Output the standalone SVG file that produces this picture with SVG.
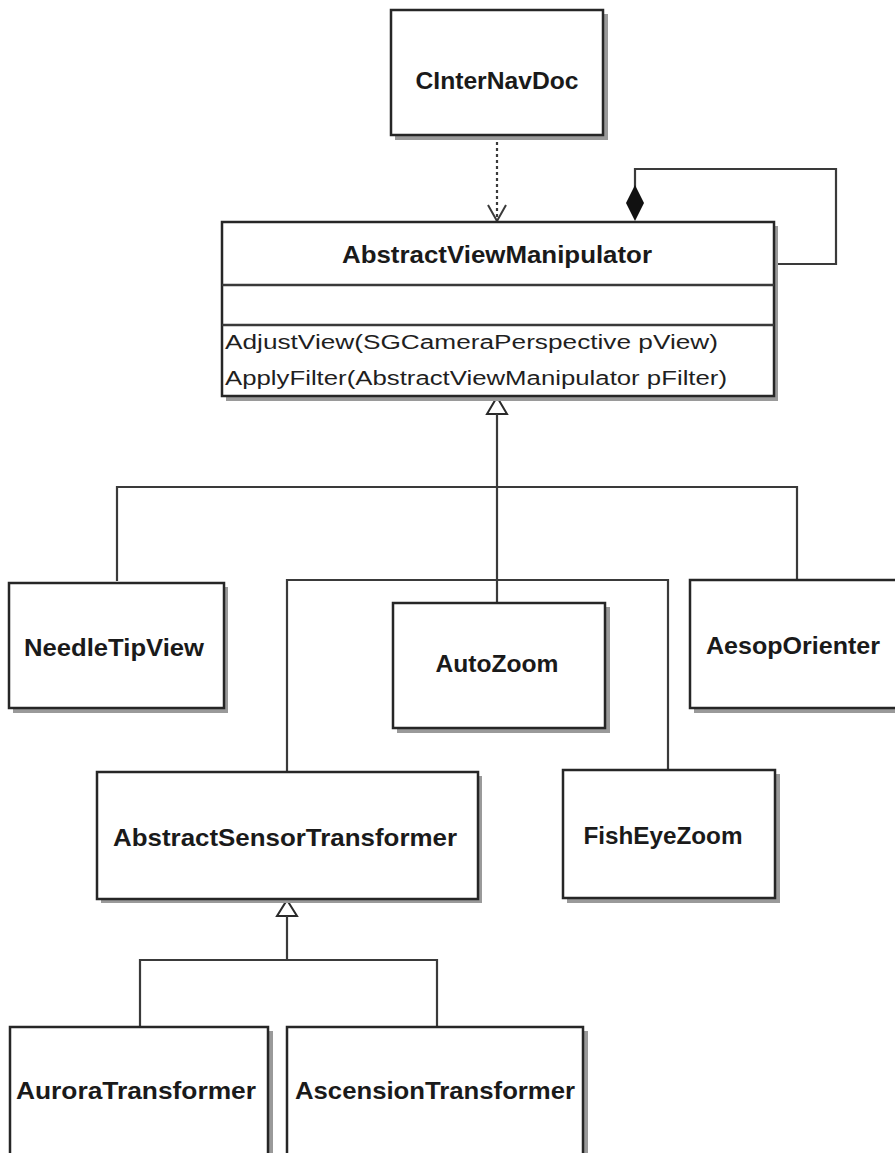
<svg xmlns="http://www.w3.org/2000/svg" width="895" height="1153" viewBox="0 0 895 1153">
  <style>
    .box { fill: #ffffff; stroke: #262626; stroke-width: 2.5; }
    .shadow { fill: #9a9a9a; }
    .div { stroke: #3a3a3a; stroke-width: 2.5; fill: none; }
    .name { font-family: "Liberation Sans", Arial, sans-serif; font-weight: bold; font-size: 24px; fill: #1a1a1a; text-anchor: middle; }
    .op { font-family: "Liberation Sans", Arial, sans-serif; font-size: 20px; fill: #1f1f1f; }
    .wire { stroke: #3a3a3a; stroke-width: 2.2; fill: none; }
    .dep { stroke: #3a3a3a; stroke-width: 2.2; fill: none; stroke-dasharray: 3 3; }
  </style>
  <defs>
    <!-- open V arrowhead, drawn along +x and turned by orient -->
    <marker id="openArrow" viewBox="0 0 20 20" refX="19" refY="10" markerWidth="20" markerHeight="20" markerUnits="userSpaceOnUse" orient="auto">
      <path d="M3,1 L19,10 L3,19" fill="none" stroke="#3a3a3a" stroke-width="2"/>
    </marker>
  </defs>
  <rect width="895" height="1153" fill="#ffffff"/>

  <!-- connectors -->
  <g id="connectors">
    <!-- dependency: CInterNavDoc to AbstractViewManipulator -->
    <line class="dep" x1="497" y1="136" x2="497" y2="221" marker-end="url(#openArrow)"/>
    <!-- self composition on AbstractViewManipulator -->
    <polyline class="wire" points="635,190 635,169 836,169 836,264 774,264"/>
    <polygon points="635,185 644,203 635,221 626,203" fill="#111111"/>
    <!-- generalization from AbstractViewManipulator -->
    <polygon points="497,397 507,414 487,414" fill="#ffffff" stroke="#2a2a2a" stroke-width="2"/>
    <line class="wire" x1="497" y1="414" x2="497" y2="603"/>
    <polyline class="wire" points="117,581 117,487 797,487 797,580"/>
    <polyline class="wire" points="287,772 287,580 668,580 668,770"/>
    <!-- generalization from AbstractSensorTransformer -->
    <polygon points="287,900 297,916 277,916" fill="#ffffff" stroke="#2a2a2a" stroke-width="2"/>
    <line class="wire" x1="287" y1="916" x2="287" y2="960"/>
    <polyline class="wire" points="140,1027 140,960 437,960 437,1027"/>
  </g>

  <!-- classes -->
  <g id="CInterNavDoc">
    <rect class="shadow" x="395" y="14" width="213" height="126"/>
    <rect class="box" x="391" y="10" width="212" height="125"/>
    <text class="name" x="497" y="89" textLength="163" lengthAdjust="spacingAndGlyphs">CInterNavDoc</text>
  </g>

  <g id="AbstractViewManipulator">
    <rect class="shadow" x="226" y="226" width="552" height="175"/>
    <rect class="box" x="222" y="222" width="552" height="174"/>
    <line class="div" x1="222" y1="285" x2="774" y2="285"/>
    <line class="div" x1="222" y1="325" x2="774" y2="325"/>
    <text class="name" x="497" y="263" textLength="310" lengthAdjust="spacingAndGlyphs">AbstractViewManipulator</text>
    <text class="op" x="225" y="349" textLength="493" lengthAdjust="spacingAndGlyphs">AdjustView(SGCameraPerspective pView)</text>
    <text class="op" x="225" y="385" textLength="502" lengthAdjust="spacingAndGlyphs">ApplyFilter(AbstractViewManipulator pFilter)</text>
  </g>

  <g id="NeedleTipView">
    <rect class="shadow" x="13" y="587" width="215" height="126"/>
    <rect class="box" x="9" y="583" width="215" height="125"/>
    <text class="name" x="114" y="656" textLength="180" lengthAdjust="spacingAndGlyphs">NeedleTipView</text>
  </g>

  <g id="AutoZoom">
    <rect class="shadow" x="397" y="607" width="213" height="126"/>
    <rect class="box" x="393" y="603" width="212" height="125"/>
    <text class="name" x="497" y="672" textLength="123" lengthAdjust="spacingAndGlyphs">AutoZoom</text>
  </g>

  <g id="AesopOrienter">
    <rect class="shadow" x="694" y="584" width="220" height="129"/>
    <rect class="box" x="690" y="580" width="220" height="128"/>
    <text class="name" x="793" y="654" textLength="174" lengthAdjust="spacingAndGlyphs">AesopOrienter</text>
  </g>

  <g id="AbstractSensorTransformer">
    <rect class="shadow" x="101" y="776" width="381" height="127"/>
    <rect class="box" x="97" y="772" width="381" height="127"/>
    <text class="name" x="285" y="846" textLength="344" lengthAdjust="spacingAndGlyphs">AbstractSensorTransformer</text>
  </g>

  <g id="FishEyeZoom">
    <rect class="shadow" x="567" y="774" width="213" height="129"/>
    <rect class="box" x="563" y="770" width="212" height="128"/>
    <text class="name" x="663" y="844" textLength="159" lengthAdjust="spacingAndGlyphs">FishEyeZoom</text>
  </g>

  <g id="AuroraTransformer">
    <rect class="shadow" x="14" y="1031" width="259" height="140"/>
    <rect class="box" x="10" y="1027" width="258" height="140"/>
    <text class="name" x="136" y="1099" textLength="240" lengthAdjust="spacingAndGlyphs">AuroraTransformer</text>
  </g>

  <g id="AscensionTransformer">
    <rect class="shadow" x="291" y="1031" width="297" height="140"/>
    <rect class="box" x="287" y="1027" width="296" height="140"/>
    <text class="name" x="435" y="1099" textLength="280" lengthAdjust="spacingAndGlyphs">AscensionTransformer</text>
  </g>
</svg>
